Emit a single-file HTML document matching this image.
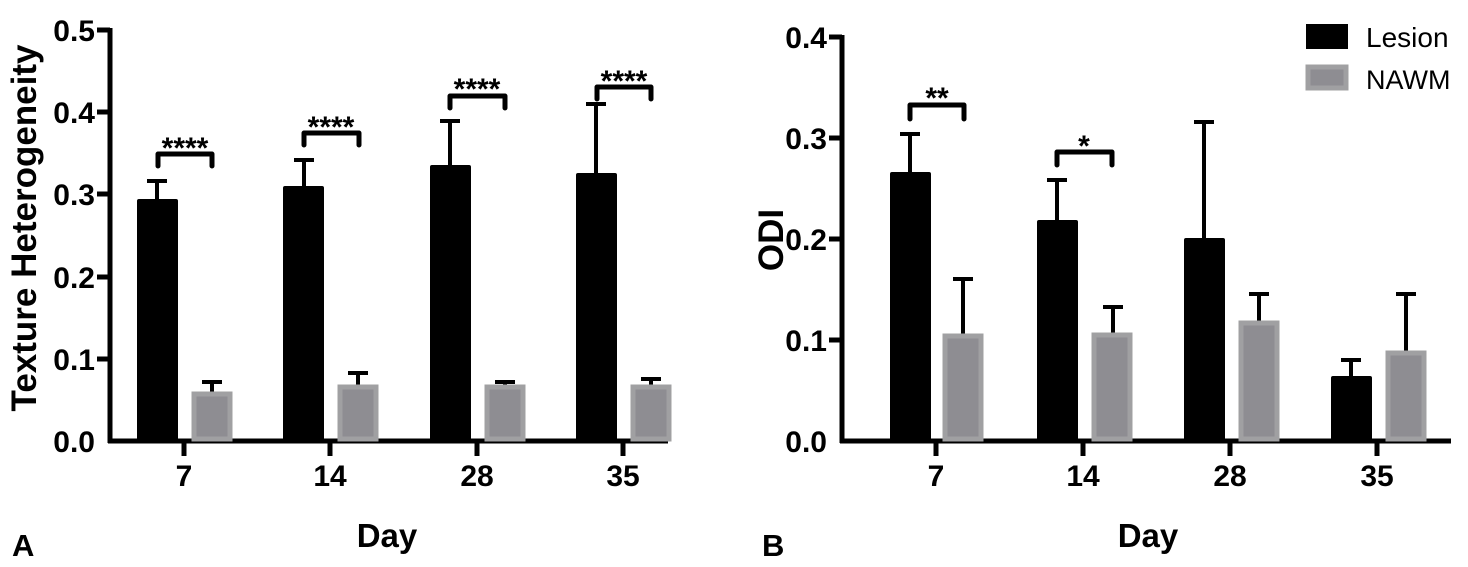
<!DOCTYPE html><html><head><style>body{margin:0;background:#fff}svg{display:block}text{font-family:"Liberation Sans",Arial,sans-serif;font-weight:bold;fill:#000}</style></head><body>
<svg width="1468" height="567" viewBox="0 0 1468 567" xmlns="http://www.w3.org/2000/svg">
<g stroke="#000" stroke-width="5">
<line x1="110" y1="28" x2="110" y2="443"/><line x1="108" y1="441" x2="668" y2="441"/>
<line x1="97" y1="30" x2="110" y2="30"/><line x1="97" y1="112" x2="110" y2="112"/><line x1="97" y1="194" x2="110" y2="194"/><line x1="97" y1="277" x2="110" y2="277"/><line x1="97" y1="359" x2="110" y2="359"/>
<line x1="184" y1="441" x2="184" y2="456"/><line x1="330" y1="441" x2="330" y2="456"/><line x1="477" y1="441" x2="477" y2="456"/><line x1="623" y1="441" x2="623" y2="456"/>
</g>
<g font-size="30" text-anchor="end"><text x="95" y="41">0.5</text><text x="95" y="123">0.4</text><text x="95" y="205">0.3</text><text x="95" y="288">0.2</text><text x="95" y="370">0.1</text><text x="95" y="452">0.0</text></g>
<g font-size="30" text-anchor="middle"><text x="184" y="486">7</text><text x="330" y="486">14</text><text x="477" y="486">28</text><text x="623" y="486">35</text></g>
<text font-size="35" transform="translate(36,228) rotate(-90)" text-anchor="middle">Texture Heterogeneity</text>
<text x="387" y="547" font-size="33" text-anchor="middle">Day</text>
<text x="12" y="556" font-size="31">A</text>
<g stroke="#000" stroke-width="4">
<line x1="157" y1="200" x2="157" y2="181"/><line x1="147" y1="181" x2="167" y2="181"/>
<line x1="304" y1="187" x2="304" y2="160"/><line x1="294" y1="160" x2="314" y2="160"/>
<line x1="450" y1="166" x2="450" y2="121"/><line x1="440" y1="121" x2="460" y2="121"/>
<line x1="596" y1="174" x2="596" y2="104"/><line x1="586" y1="104" x2="606" y2="104"/>
<line x1="212" y1="392" x2="212" y2="382"/><line x1="202" y1="382" x2="222" y2="382"/>
<line x1="358" y1="385" x2="358" y2="373"/><line x1="348" y1="373" x2="368" y2="373"/>
<line x1="505" y1="385" x2="505" y2="382"/><line x1="495" y1="382" x2="515" y2="382"/>
<line x1="651" y1="385" x2="651" y2="379"/><line x1="641" y1="379" x2="661" y2="379"/>
</g>
<g fill="#000"><rect x="137" y="199" width="41" height="242" rx="2"/><rect x="283" y="186" width="41" height="255" rx="2"/><rect x="430" y="165" width="41" height="276" rx="2"/><rect x="576" y="173" width="41" height="268" rx="2"/></g>
<g fill="#8e8d92" stroke="#a0a0a2" stroke-width="5"><rect x="194" y="394" width="36" height="45"/><rect x="340" y="387" width="36" height="52"/><rect x="487" y="387" width="36" height="52"/><rect x="633" y="387" width="36" height="52"/></g>
<g stroke="#000" stroke-width="5" fill="none" stroke-linejoin="round" stroke-linecap="round"><path d="M158,166V154H212V166"/><path d="M304,145V133H359V145"/><path d="M450,108V96H505V108"/><path d="M597,99V87H651V99"/></g>
<g font-size="30" text-anchor="middle"><text x="185" y="158">****</text><text x="331" y="137">****</text><text x="477" y="99">****</text><text x="624" y="91">****</text></g>
<g stroke="#000" stroke-width="5">
<line x1="842" y1="35" x2="842" y2="443"/><line x1="840" y1="441" x2="1451" y2="441"/>
<line x1="829" y1="37" x2="842" y2="37"/><line x1="829" y1="138" x2="842" y2="138"/><line x1="829" y1="239" x2="842" y2="239"/><line x1="829" y1="340" x2="842" y2="340"/>
<line x1="936" y1="441" x2="936" y2="456"/><line x1="1083" y1="441" x2="1083" y2="456"/><line x1="1230" y1="441" x2="1230" y2="456"/><line x1="1377" y1="441" x2="1377" y2="456"/>
</g>
<g font-size="30" text-anchor="end"><text x="827" y="48">0.4</text><text x="827" y="149">0.3</text><text x="827" y="250">0.2</text><text x="827" y="351">0.1</text><text x="827" y="452">0.0</text></g>
<g font-size="30" text-anchor="middle"><text x="936" y="486">7</text><text x="1083" y="486">14</text><text x="1230" y="486">28</text><text x="1377" y="486">35</text></g>
<text font-size="35" transform="translate(783,240) rotate(-90)" text-anchor="middle">ODI</text>
<text x="1148" y="547" font-size="33" text-anchor="middle">Day</text>
<text x="762" y="556" font-size="31">B</text>
<g stroke="#000" stroke-width="4">
<line x1="910" y1="176" x2="910" y2="134"/><line x1="900" y1="134" x2="920" y2="134"/>
<line x1="1057" y1="222" x2="1057" y2="180"/><line x1="1047" y1="180" x2="1067" y2="180"/>
<line x1="1204" y1="240" x2="1204" y2="122"/><line x1="1194" y1="122" x2="1214" y2="122"/>
<line x1="1351" y1="378" x2="1351" y2="360"/><line x1="1341" y1="360" x2="1361" y2="360"/>
<line x1="963" y1="336" x2="963" y2="279"/><line x1="953" y1="279" x2="973" y2="279"/>
<line x1="1113" y1="336" x2="1113" y2="307"/><line x1="1103" y1="307" x2="1123" y2="307"/>
<line x1="1259" y1="324" x2="1259" y2="294"/><line x1="1249" y1="294" x2="1269" y2="294"/>
<line x1="1406" y1="354" x2="1406" y2="294"/><line x1="1396" y1="294" x2="1416" y2="294"/>
</g>
<g fill="#000"><rect x="890" y="172" width="41" height="269" rx="2"/><rect x="1037" y="220" width="41" height="221" rx="2"/><rect x="1184" y="238" width="41" height="203" rx="2"/><rect x="1331" y="376" width="41" height="65" rx="2"/></g>
<g fill="#8e8d92" stroke="#a0a0a2" stroke-width="5"><rect x="945" y="336" width="36" height="103"/><rect x="1094" y="335" width="36" height="104"/><rect x="1241" y="323" width="36" height="116"/><rect x="1388" y="353" width="36" height="86"/></g>
<g stroke="#000" stroke-width="5" fill="none" stroke-linejoin="round" stroke-linecap="round"><path d="M910,119V105H964V119"/><path d="M1057,165V152H1112V165"/></g>
<g font-size="30" text-anchor="middle"><text x="937" y="108">**</text><text x="1084" y="156">*</text></g>
<rect x="1306" y="24" width="42" height="25" fill="#000"/>
<rect x="1308" y="67" width="38" height="21" fill="#8e8d92" stroke="#a0a0a2" stroke-width="5"/>
<text x="1366" y="47" font-size="28" style="font-weight:normal">Lesion</text>
<text x="1366" y="89" font-size="27" style="font-weight:normal">NAWM</text>
</svg></body></html>
